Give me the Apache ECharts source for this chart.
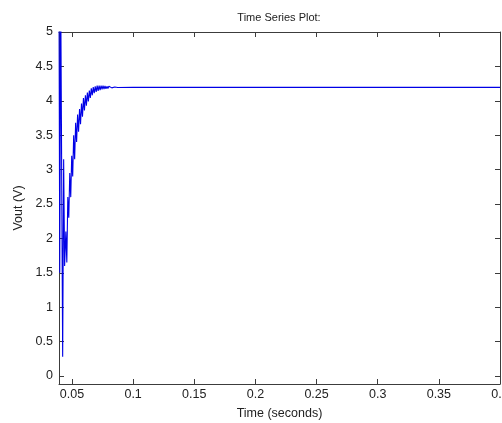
<!DOCTYPE html>
<html>
<head>
<meta charset="utf-8">
<script src="https://cdn.jsdelivr.net/npm/echarts@6/dist/echarts.min.js"></script>
<style>
  html, body { margin: 0; padding: 0; background: #fff; }
  #main { width: 502px; height: 423px; }
</style>
</head>
<body>
<div id="main"></div>
<script>
// Vout (seconds, volts)
var timeSec = [
  0.0394, 0.0400, 0.0408, 0.0424, 0.0432, 0.0440,
  0.0450, 0.0458, 0.0466, 0.0474, 0.0482, 0.0490, 0.0498, 0.0506,
  0.0514, 0.0522, 0.0530, 0.0538, 0.0546, 0.0554, 0.0562, 0.0570,
  0.0578, 0.0586, 0.0594, 0.0602, 0.0610, 0.0618, 0.0626, 0.0634,
  0.0642, 0.0650, 0.0658, 0.0666, 0.0674, 0.0682, 0.0690, 0.0698,
  0.0706, 0.0714, 0.0722, 0.0730, 0.0738, 0.0746, 0.0754, 0.0762,
  0.0770, 0.0778, 0.0786, 0.0794, 0.0802, 0.0810, 0.0818, 0.0826,
  0.0834, 0.0842, 0.0850, 0.0858, 0.0866, 0.0874, 0.0890, 0.1000, 0.4000
];
var voutV = [
  5.6, 1.5, 5.6, 0.28, 3.15, 1.6,
  2.1, 1.65, 2.6, 2.3, 2.95, 2.6, 3.2, 2.9,
  3.5, 3.15, 3.68, 3.4, 3.8, 3.55, 3.88, 3.66,
  3.96, 3.77, 4.04, 3.86, 4.08, 3.93, 4.12, 3.99,
  4.15, 4.04, 4.18, 4.08, 4.2, 4.11, 4.21, 4.13,
  4.22, 4.145, 4.22, 4.155, 4.22, 4.165, 4.22, 4.17,
  4.215, 4.175, 4.21, 4.18, 4.21, 4.185, 4.205, 4.188,
  4.203, 4.19, 4.2, 4.192, 4.2, 4.193, 4.195, 4.195, 4.195
];
var xTicks = [0.05, 0.1, 0.15, 0.2, 0.25, 0.3, 0.35, 0.4];
var yTicks = [0, 0.5, 1, 1.5, 2, 2.5, 3, 3.5, 4, 4.5, 5];

var chart = echarts.init(document.getElementById("main"));
var font = "Liberation Sans, Arial, sans-serif";
var axisColor = "#3c3c3c";

var points = [];
for (var i = 0; i < timeSec.length; i++) {
  points.push([timeSec[i], voutV[i]]);
}

function xAx(pos, showLabel) {
  return {
    type: "value",
    position: pos,
    min: 0.0394,
    max: 0.4,
    name: showLabel ? "Time (seconds)" : "",
    nameLocation: "middle",
    nameGap: 23,
    nameTextStyle: { color: "#222", fontSize: 12.5, fontFamily: font },
    axisLine: { show: true, onZero: false, lineStyle: { color: axisColor, width: 1 } },
    axisTick: { show: true, inside: true, length: 5, customValues: xTicks, lineStyle: { color: axisColor } },
    axisLabel: {
      show: showLabel, customValues: xTicks, color: "#222", fontSize: 12.5,
      fontFamily: font, margin: 4
    },
    splitLine: { show: false }
  };
}

function yAx(pos, showLabel) {
  return {
    type: "value",
    position: pos,
    min: -0.116,
    max: 5,
    name: showLabel ? "Vout (V)" : "",
    nameLocation: "middle",
    nameRotate: 90,
    nameGap: 33,
    nameTextStyle: { color: "#222", fontSize: 12.5, fontFamily: font },
    axisLine: { show: true, onZero: false, lineStyle: { color: axisColor, width: 1 } },
    axisTick: { show: true, inside: true, length: 5, customValues: yTicks, lineStyle: { color: axisColor } },
    axisLabel: {
      show: showLabel, customValues: yTicks, color: "#222", fontSize: 12.5,
      fontFamily: font, margin: 6
    },
    splitLine: { show: false }
  };
}

chart.setOption({
  animation: false,
  backgroundColor: "#fff",
  title: {
    text: "Time Series Plot:",
    left: 274,
    top: 7,
    textAlign: "center",
    textStyle: { color: "#222", fontSize: 11, fontWeight: "normal", fontFamily: font }
  },
  grid: { left: 59, right: 2, top: 32, bottom: 39, outerBoundsMode: "none" },
  xAxis: [xAx("bottom", true), xAx("top", false)],
  yAxis: [yAx("left", true), yAx("right", false)],
  series: [{
    type: "line",
    xAxisIndex: 0,
    yAxisIndex: 0,
    data: points,
    showSymbol: false,
    clip: true,
    lineStyle: { color: "#0000e6", width: 1.1 }
  }]
});
</script>
</body>
</html>
